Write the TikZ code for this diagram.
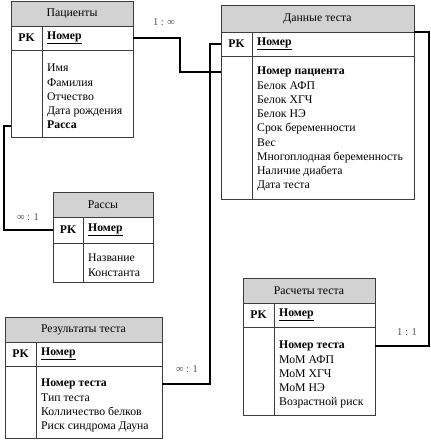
\documentclass[tikz,border=0pt]{standalone}
\usepackage{fontspec}
\setmainfont{Liberation Serif}
\usetikzlibrary{calc}
\definecolor{hdrgray}{HTML}{D2D2D2}
\definecolor{bordergray}{HTML}{3C3C3C}
\definecolor{lblgray}{HTML}{505050}
\begin{document}
\begin{tikzpicture}[x=1pt,y=-1pt,
  tfont/.style={font=\fontsize{11.75}{14.25}\selectfont},
  hdr/.style={draw=bordergray, fill=hdrgray, line width=0.8pt, inner sep=0pt, outer sep=0pt, anchor=north west, tfont},
  cell/.style={draw=bordergray, fill=white, line width=0.8pt, inner sep=0pt, outer sep=0pt, anchor=north west},
  divline/.style={draw=bordergray, line width=0.8pt},
  pklbl/.style={font=\fontsize{11.75}{14.25}\selectfont\bfseries, inner sep=0pt},
  keylbl/.style={font=\fontsize{11.75}{14.25}\selectfont\bfseries, inner sep=0pt, anchor=west},
  bodytxt/.style={tfont, inner sep=0pt, anchor=north west, align=left},
  fktxt/.style={font=\fontsize{11.75}{14.25}\selectfont\bfseries, inner sep=0pt, anchor=north west, align=left},
  conn/.style={draw=black, line width=1.6pt},
  lbl/.style={font=\fontsize{10.5}{12}\selectfont, text=lblgray, inner sep=0pt}
]
\path[use as bounding box] (0,0) rectangle (431,440);

% ---------- Пациенты ----------
\node[hdr, minimum width=122pt, minimum height=25pt] (Ph) at (11,1) {Пациенты};
\node[cell, minimum width=122pt, minimum height=24pt] (Ppk) at (11,26) {};
\node[cell, minimum width=122pt, minimum height=87pt] (Pb) at (11,50) {};
\draw[divline] ($(Ppk.north west)+(31,0)$) -- ($(Pb.south west)+(31,0)$);
\node[pklbl] (Ppkl) at (26.5,38) {PK};
\node[keylbl] (Pkey) at (47,38) {\underline{Номер}};
\node[bodytxt] (Ptxt) at (47,61.8) {\strut Имя\\Фамилия\\Отчество\\Дата рождения};
\node[fktxt] (Pfk) at (47,118.8) {\strut Расса};

% ---------- Данные теста ----------
\node[hdr, minimum width=193pt, minimum height=27pt] (Dh) at (221,5) {Данные теста};
\node[cell, minimum width=193pt, minimum height=24pt] (Dpk) at (221,32) {};
\node[cell, minimum width=193pt, minimum height=143pt] (Db) at (221,56) {};
\draw[divline] ($(Dpk.north west)+(31,0)$) -- ($(Db.south west)+(31,0)$);
\node[pklbl] (Dpkl) at (236.5,44) {PK};
\node[keylbl] (Dkey) at (257,44) {\underline{Номер}};
\node[fktxt] (Dfk) at (257,64.8) {\strut Номер пациента};
\node[bodytxt] (Dtxt) at (257,79.05) {\strut Белок АФП\\Белок ХГЧ\\Белок НЭ\\Срок беременности\\Вес\\Многоплодная беременность\\Наличие диабета\\Дата теста};

% ---------- Рассы ----------
\node[hdr, minimum width=100pt, minimum height=25pt] (Rh) at (53,192) {Рассы};
\node[cell, minimum width=100pt, minimum height=26pt] (Rpk) at (53,217) {};
\node[cell, minimum width=100pt, minimum height=39pt] (Rb) at (53,243) {};
\draw[divline] ($(Rpk.north west)+(30,0)$) -- ($(Rb.south west)+(30,0)$);
\node[pklbl] (Rpkl) at (68,230) {PK};
\node[keylbl] (Rkey) at (88,230) {\underline{Номер}};
\node[bodytxt] (Rtxt) at (88,251.8) {\strut Название\\Константа};

% ---------- Результаты теста ----------
\node[hdr, minimum width=157pt, minimum height=25pt] (Th) at (5,317) {Результаты теста};
\node[cell, minimum width=157pt, minimum height=24pt] (Tpk) at (5,342) {};
\node[cell, minimum width=157pt, minimum height=72pt] (Tb) at (5,366) {};
\draw[divline] ($(Tpk.north west)+(31,0)$) -- ($(Tb.south west)+(31,0)$);
\node[pklbl] (Tpkl) at (20.5,354) {PK};
\node[keylbl] (Tkey) at (41,354) {\underline{Номер}};
\node[fktxt] (Tfk) at (41,376.8) {\strut Номер теста};
\node[bodytxt] (Ttxt) at (41,391.05) {\strut Тип теста\\Колличество белков\\Риск синдрома Дауна};

% ---------- Расчеты теста ----------
\node[hdr, minimum width=132pt, minimum height=25pt] (Ch) at (243,278) {Расчеты теста};
\node[cell, minimum width=132pt, minimum height=24pt] (Cpk) at (243,303) {};
\node[cell, minimum width=132pt, minimum height=88pt] (Cb) at (243,327) {};
\draw[divline] ($(Cpk.north west)+(31,0)$) -- ($(Cb.south west)+(31,0)$);
\node[pklbl] (Cpkl) at (258.5,315) {PK};
\node[keylbl] (Ckey) at (279,315) {\underline{Номер}};
\node[fktxt] (Cfk) at (279,338.8) {\strut Номер теста};
\node[bodytxt] (Ctxt) at (279,353.05) {\strut МоМ АФП\\МоМ ХГЧ\\МоМ НЭ\\Возрастной риск};

% ---------- connectors ----------
\draw[conn] (Ppk.east) -- ++(47,0) |- (Db.west |- Dfk.west);
\draw[conn] (Dpk.west) -- ++(-11,0) |- (Tb.east |- Tfk.west);
\draw[conn] (Dh.south east) -- ++(15,0) |- (Cb.east |- Cfk.west);
\draw[conn] (Pb.west |- Pfk.west) -- ++(-7,0) |- (Rpk.west);

% ---------- labels ----------
\node[lbl] (L1) at (164,22) {1 : ∞};
\node[lbl] (L2) at (28,217) {∞ : 1};
\node[lbl] (L3) at (187,369) {∞ : 1};
\node[lbl] (L4) at (407,332) {1 : 1};
\end{tikzpicture}
\end{document}
